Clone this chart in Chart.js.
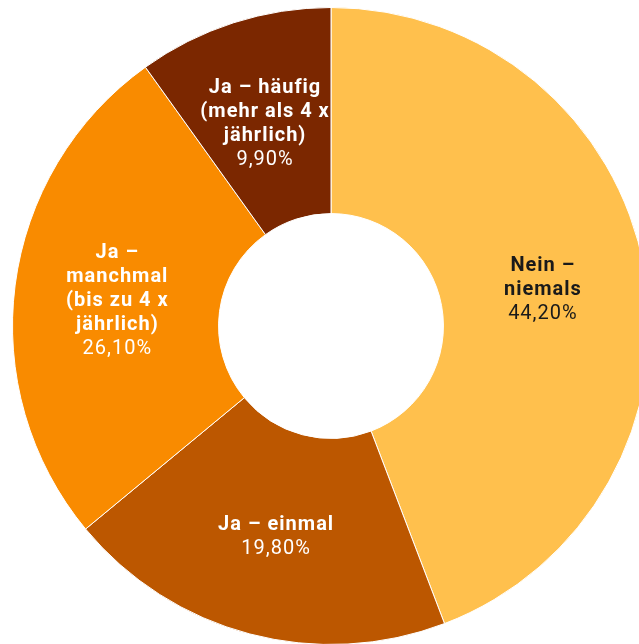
<!DOCTYPE html>
<html lang="de">
<head>
<meta charset="utf-8">
<title>Häufigkeit</title>
<script src="https://cdn.jsdelivr.net/npm/chart.js@4"></script>
<style>
  html, body { margin: 0; padding: 0; background: #fff; overflow: hidden; }
  #wrap { position: relative; width: 663px; height: 652px; }
</style>
</head>
<body>
<div id="wrap"><canvas id="grafico_rosca"></canvas></div>
<script>
// -----------------------Gráfico Rosca--------------------------------------------//

var categorias = [
  ['Nein –', 'niemals'],
  ['Ja – einmal'],
  ['Ja –', 'manchmal', '(bis zu 4 x', 'jährlich)'],
  ['Ja – häufig', '(mehr als 4 x', 'jährlich)']
];
var valores = [44.2, 19.8, 26.1, 9.9];
var cores = ['#FFC04D', '#BC5700', '#F98B00', '#7B2700'];
var coresTexto = ['#1a1a1a', '#ffffff', '#ffffff', '#ffffff'];

// rótulos dentro de cada fatia (nome em negrito + percentual)
var rotulosPlugin = {
  id: 'rotulos',
  afterDatasetsDraw: function (chart) {
    var ctx = chart.ctx;
    var meta = chart.getDatasetMeta(0);
    var lh = 24;
    ctx.save();
    ctx.textAlign = 'center';
    ctx.textBaseline = 'middle';
    ctx.letterSpacing = '1px';
    meta.data.forEach(function (arc, i) {
      var pos = arc.tooltipPosition();
      var linhas = categorias[i].slice();
      var pct = valores[i].toFixed(2).replace('.', ',') + '%';
      var n = linhas.length + 1;
      var y0 = pos.y + 3 - (n - 1) / 2 * lh;
      ctx.fillStyle = coresTexto[i];
      ctx.font = 'bold 20px Roboto';
      linhas.forEach(function (t, j) {
        ctx.fillText(t, pos.x, y0 + j * lh);
      });
      ctx.font = '20px Roboto';
      ctx.fillText(pct, pos.x, y0 + linhas.length * lh);
    });
    ctx.restore();
  }
};

var data = {
  labels: categorias,
  datasets: [
    {
      data: valores,
      backgroundColor: cores,
      borderColor: '#ffffff',
      borderWidth: 1
    }
  ]
};

var options = {
  responsive: true,
  maintainAspectRatio: false,
  animation: false,
  cutout: '35.3%',
  layout: {
    padding: { left: 12, right: 13, top: 7, bottom: 7 }
  },
  plugins: {
    legend: { display: false },
    tooltip: { enabled: false }
  }
};

var ctx = document.getElementById('grafico_rosca').getContext('2d');
var grafico_rosca = new Chart(ctx, {
  type: 'doughnut',
  data: data,
  options: options,
  plugins: [rotulosPlugin]
});
</script>
</body>
</html>
